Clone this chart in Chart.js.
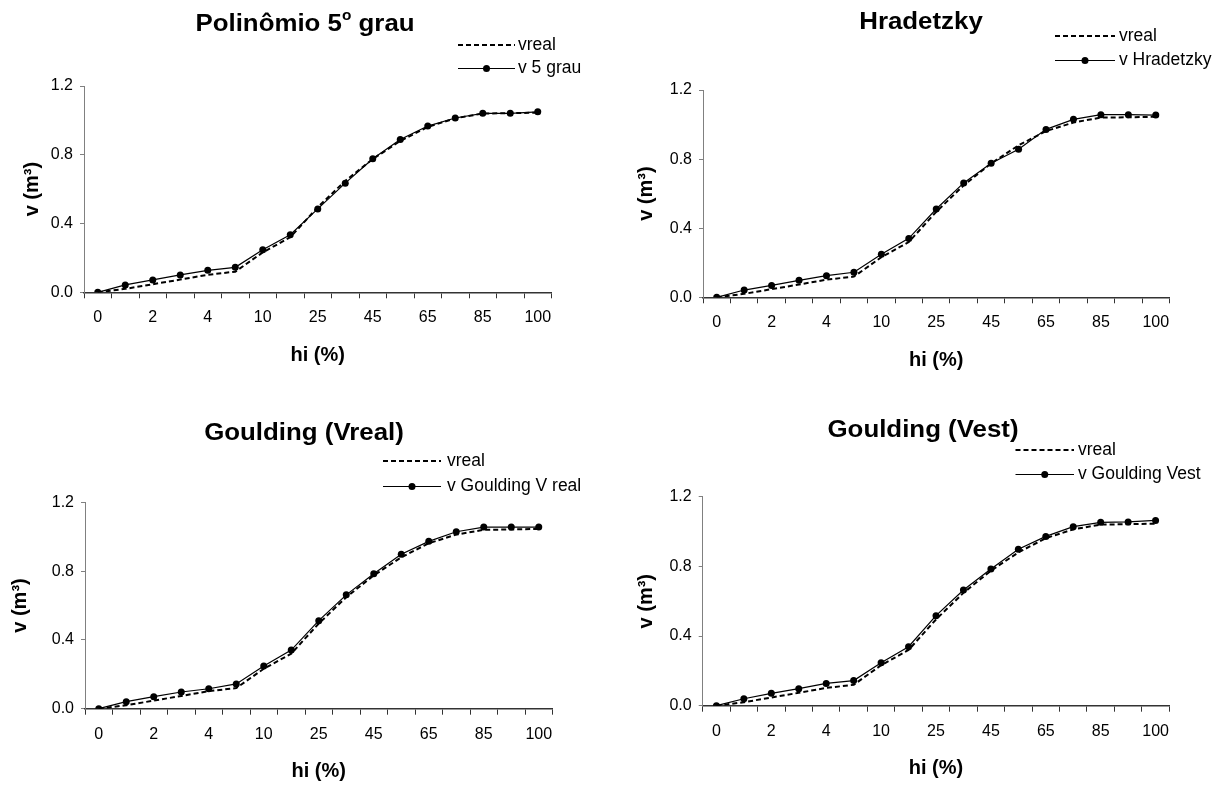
<!DOCTYPE html>
<html><head><meta charset="utf-8">
<script src="https://cdn.jsdelivr.net/npm/chart.js@4/dist/chart.umd.min.js"></script>
<style>
html,body{margin:0;padding:0;background:#fff;width:1213px;height:786px;overflow:hidden;}
canvas{position:absolute;}
</style></head><body>
<canvas id="c1" width="606" height="393" style="left:0px;top:0px"></canvas>
<canvas id="c2" width="607" height="393" style="left:606px;top:0px"></canvas>
<canvas id="c3" width="606" height="393" style="left:0px;top:393px"></canvas>
<canvas id="c4" width="607" height="393" style="left:606px;top:393px"></canvas>
<script>
// ---- data ----
const categories = ['0','1','2','3','4','5','10','15','25','35','45','55','65','75','85','95','100'];
const xTickLabels = ['0','2','4','10','25','45','65','85','100'];
const yTicks = [0, 0.4, 0.8, 1.2];

const vreal          = [0, 0.020, 0.047, 0.074, 0.102, 0.120, 0.232, 0.320, 0.495, 0.648, 0.775, 0.880, 0.962, 1.012, 1.040, 1.042, 1.045];
const vPoly5         = [0, 0.043, 0.072, 0.101, 0.128, 0.145, 0.248, 0.335, 0.485, 0.635, 0.777, 0.889, 0.967, 1.014, 1.041, 1.041, 1.050];
const vHradetzky     = [0, 0.042, 0.069, 0.098, 0.125, 0.145, 0.249, 0.341, 0.511, 0.662, 0.776, 0.857, 0.972, 1.030, 1.057, 1.057, 1.055];
const vGouldingVreal = [0, 0.041, 0.070, 0.097, 0.116, 0.144, 0.248, 0.341, 0.512, 0.662, 0.785, 0.898, 0.973, 1.029, 1.056, 1.056, 1.056];
const vGouldingVest  = [0, 0.040, 0.071, 0.098, 0.128, 0.144, 0.247, 0.339, 0.517, 0.664, 0.785, 0.898, 0.972, 1.028, 1.053, 1.055, 1.064];

const FONT = '"Liberation Sans", Arial, Helvetica, sans-serif';
const TITLE_SIZE = 23.5, TITLE_STRETCH = 1.1, LEGEND_SIZE = 17.5, TICK_SIZE = 16, AXIS_TITLE_SIZE = 20;

function makeExtras(cfg) {
  return {
    id: 'extras',
    afterDraw(chart) {
      const ctx = chart.ctx;
      ctx.save();
      ctx.fillStyle = '#000';
      ctx.strokeStyle = '#000';
      ctx.textAlign = 'left';
      ctx.textBaseline = 'middle';
      // title with optional superscript (slightly widened like the original)
      const mainFont = `bold ${TITLE_SIZE}px ${FONT}`;
      const supFont = `bold ${Math.round(TITLE_SIZE * 0.6)}px ${FONT}`;
      let total = 0;
      const widths = cfg.title.map(p => {
        ctx.font = p.sup ? supFont : mainFont;
        const w = ctx.measureText(p.t).width;
        total += w;
        return w;
      });
      ctx.save();
      ctx.translate(cfg.titleX, cfg.titleY);
      ctx.scale(TITLE_STRETCH, 1);
      let x = -total / 2;
      cfg.title.forEach((p, i) => {
        ctx.font = p.sup ? supFont : mainFont;
        ctx.fillText(p.t, x, p.sup ? -TITLE_SIZE * 0.36 : 0);
        x += widths[i];
      });
      ctx.restore();
      // legend
      const lg = cfg.legend;
      ctx.font = `${LEGEND_SIZE}px ${FONT}`;
      ctx.lineWidth = 2;
      ctx.setLineDash([5, 3]);
      ctx.beginPath(); ctx.moveTo(lg.x, lg.y1); ctx.lineTo(lg.end, lg.y1); ctx.stroke();
      ctx.setLineDash([]);
      ctx.fillText(chart.data.datasets[0].label, lg.textX, lg.y1);
      ctx.lineWidth = 1;
      ctx.beginPath(); ctx.moveTo(lg.x, lg.y2 + 0.5); ctx.lineTo(lg.end, lg.y2 + 0.5); ctx.stroke();
      ctx.beginPath(); ctx.arc((lg.x + lg.end) / 2, lg.y2 + 0.5, 3.5, 0, Math.PI * 2); ctx.fill();
      ctx.fillText(chart.data.datasets[1].label, lg.textX, lg.y2);
      ctx.restore();
    }
  };
}

function makeChart(cfg) {
  const lh = AXIS_TITLE_SIZE * 1.2;
  new Chart(document.getElementById(cfg.id), {
    type: 'line',
    data: {
      labels: categories,
      datasets: [
        { label: 'vreal', data: vreal, borderColor: '#000', borderWidth: 2, borderDash: [5, 3],
          pointRadius: 0, tension: 0, fill: false },
        { label: cfg.modelLabel, data: cfg.model, borderColor: '#000', borderWidth: 1.2,
          pointRadius: 3.5, pointBackgroundColor: '#000', pointBorderWidth: 0, tension: 0, fill: false }
      ]
    },
    options: {
      responsive: false,
      animation: false,
      devicePixelRatio: 1,
      layout: { padding: { left: 0, top: cfg.area.T, right: cfg.W - cfg.area.R, bottom: 0 } },
      plugins: { legend: { display: false }, title: { display: false }, tooltip: { enabled: false } },
      scales: {
        x: {
          type: 'category',
          offset: true,
          grid: { offset: true, drawOnChartArea: false, drawTicks: true, tickLength: 6, color: '#333', lineWidth: 1 },
          border: { display: true, color: '#333', width: 1.5 },
          ticks: {
            autoSkip: false, maxRotation: 0, minRotation: 0, padding: 10,
            color: '#000', font: { family: FONT, size: TICK_SIZE },
            callback: function (val, idx) {
              const l = categories[idx];
              return xTickLabels.includes(l) && idx % 2 === 0 ? l : '';
            }
          },
          title: {
            display: true, text: 'hi (%)', color: '#000',
            font: { family: FONT, size: AXIS_TITLE_SIZE, weight: 'bold' },
            padding: { top: 0, bottom: (cfg.H - cfg.xTitleY) - lh / 2 }
          },
          afterFit: s => { s.height = cfg.H - cfg.area.B; }
        },
        y: {
          min: 0, max: 1.2,
          grid: { drawOnChartArea: false, drawTicks: true, tickLength: 4, color: '#808080' },
          border: { display: true, color: '#808080', width: 1 },
          afterBuildTicks: s => { s.ticks = yTicks.map(v => ({ value: v })); },
          ticks: {
            padding: 7, color: '#000', font: { family: FONT, size: TICK_SIZE },
            callback: v => Number(v).toFixed(1)
          },
          title: {
            display: true, text: 'v (m³)', color: '#000',
            font: { family: FONT, size: AXIS_TITLE_SIZE, weight: 'bold' },
            padding: { top: cfg.yTitleX - lh / 2, bottom: 0 }
          },
          afterFit: s => { s.width = cfg.area.L; }
        }
      }
    },
    plugins: [makeExtras(cfg)]
  });
}

makeChart({
  id: 'c1', W: 606, H: 393,
  area: { L: 84, T: 86, R: 551.5, B: 292.3 },
  yTitleX: 32.5, xTitleY: 355,
  model: vPoly5, modelLabel: 'v 5 grau',
  title: [{ t: 'Polinômio 5' }, { t: 'o', sup: true }, { t: ' grau' }], titleX: 305, titleY: 25,
  legend: { x: 458, end: 515, textX: 518, y1: 45, y2: 68 }
});
makeChart({
  id: 'c2', W: 607, H: 393,
  area: { L: 97, T: 90, R: 563.5, B: 297.3 },
  yTitleX: 40, xTitleY: 360,
  model: vHradetzky, modelLabel: 'v Hradetzky',
  title: [{ t: 'Hradetzky' }], titleX: 315, titleY: 22.5,
  legend: { x: 449, end: 509, textX: 513, y1: 36, y2: 60 }
});
makeChart({
  id: 'c3', W: 606, H: 393,
  area: { L: 85, T: 109.3, R: 552.5, B: 315.7 },
  yTitleX: 20, xTitleY: 378.7,
  model: vGouldingVreal, modelLabel: 'v Goulding V real',
  title: [{ t: 'Goulding (Vreal)' }], titleX: 304, titleY: 40.5,
  legend: { x: 383, end: 441, textX: 447, y1: 68, y2: 93 }
});
makeChart({
  id: 'c4', W: 607, H: 393,
  area: { L: 96.7, T: 103.7, R: 563.3, B: 312.7 },
  yTitleX: 40, xTitleY: 375.3,
  model: vGouldingVest, modelLabel: 'v Goulding Vest',
  title: [{ t: 'Goulding (Vest)' }], titleX: 317, titleY: 37.8,
  legend: { x: 409.5, end: 468, textX: 472, y1: 57, y2: 81 }
});
</script>
</body></html>
